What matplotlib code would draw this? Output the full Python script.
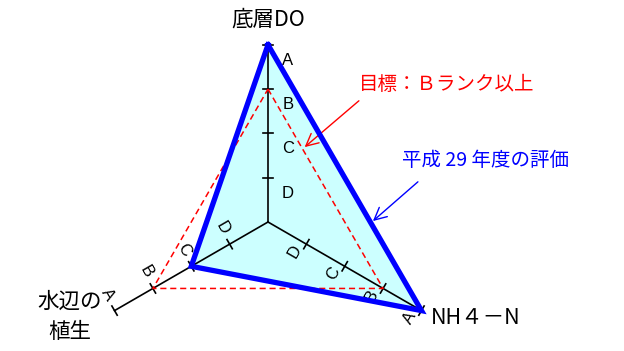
import matplotlib
matplotlib.use('Agg')
import matplotlib.pyplot as plt
import numpy as np

plt.rcParams['font.family'] = ['Noto Sans CJK JP', 'DejaVu Sans']

# Chart data
axis_names = ['底層DO', 'NH４－N', '水辺の\n植生']
axis_angles = [90, -30, 210]
rank_labels = ['D', 'C', 'B', 'A']
rank_values = [1, 2, 3, 4]
h29_values = [4, 4, 2]      # A, A, C
target_values = [3, 3, 3]   # B rank on every axis

# pixel geometry of the reference picture
W, H = 624, 351
cx, cy = 268, 222
unit = 44.3

# where the rank letters sit: (shift along axis, offset beside axis)
label_shift = {90: (-0.35, 0.45), -30: (-0.15, 0.28), 210: (-0.05, 0.4)}


def px(x, y):
    # picture pixel -> data coords
    return (x - cx) / unit, (cy - y) / unit


def polar(r, ang):
    a = np.radians(ang)
    return r * np.cos(a), r * np.sin(a)


fig = plt.figure(figsize=(W / 100, H / 100), dpi=100)
ax = fig.add_axes([0, 0, 1, 1])
ax.set_xlim(-cx / unit, (W - cx) / unit)
ax.set_ylim((cy - H) / unit, cy / unit)
ax.axis('off')

# evaluation polygon
pts = np.array([polar(v, a) for v, a in zip(h29_values, axis_angles)])
ax.fill(pts[:, 0], pts[:, 1], color='#ccffff', zorder=1)

# axes with ticks
for ang in axis_angles:
    ex, ey = polar(4, ang)
    ax.plot([0, ex], [0, ey], color='black', lw=1.2, zorder=2)
    nx, ny = polar(0.12, ang + 90)
    da, dp = label_shift[ang]
    for r, lab in zip(rank_values, rank_labels):
        tx, ty = polar(r, ang)
        ax.plot([tx - nx, tx + nx], [ty - ny, ty + ny], color='black', lw=1.2, zorder=2)
        bx, by = polar(r + da, ang)
        ox, oy = polar(dp, ang - 90)
        rot = 0 if ang == 90 else ang + 90
        ax.text(bx + ox, by + oy, lab, fontsize=12, family='Liberation Sans', rotation=rot,
                rotation_mode='anchor', ha='center', va='center', zorder=3)

# target (B rank) dashed triangle
tp = np.array([polar(v, a) for v, a in zip(target_values, axis_angles)])
ax.plot(np.append(tp[:, 0], tp[0, 0]), np.append(tp[:, 1], tp[0, 1]),
        color='red', lw=1.1, ls=(0, (4, 2.5)), zorder=3)

# evaluation outline
ax.plot(np.append(pts[:, 0], pts[0, 0]), np.append(pts[:, 1], pts[0, 1]),
        color='#0000ff', lw=3.8, solid_joinstyle='miter', zorder=4)

# axis titles
ax.text(*px(268, 20), axis_names[0], fontsize=15.5, ha='center', va='center')
ax.text(*px(431, 318), axis_names[1], fontsize=15.5, ha='left', va='center')
ax.text(*px(70, 317), axis_names[2], fontsize=15.5, ha='center', va='center',
        linespacing=1.45)

# annotations
red_tip = tp[0] + 0.3 * (tp[1] - tp[0])
ax.annotate('', xy=red_tip, xytext=px(361, 99),
            arrowprops=dict(arrowstyle='->', color='red', lw=1, mutation_scale=22))
ax.text(*px(359, 84), '目標：Ｂランク以上', color='red', fontsize=14,
        ha='left', va='center')

blue_tip = pts[0] + 0.67 * (pts[1] - pts[0])
ax.annotate('', xy=blue_tip, xytext=px(420, 180),
            arrowprops=dict(arrowstyle='->', color='#0000ff', lw=1, mutation_scale=22))
ax.text(*px(402, 160), '平成 29 年度の評価', color='#0000ff', fontsize=14,
        ha='left', va='center')

fig.savefig('out.png', dpi=100)
